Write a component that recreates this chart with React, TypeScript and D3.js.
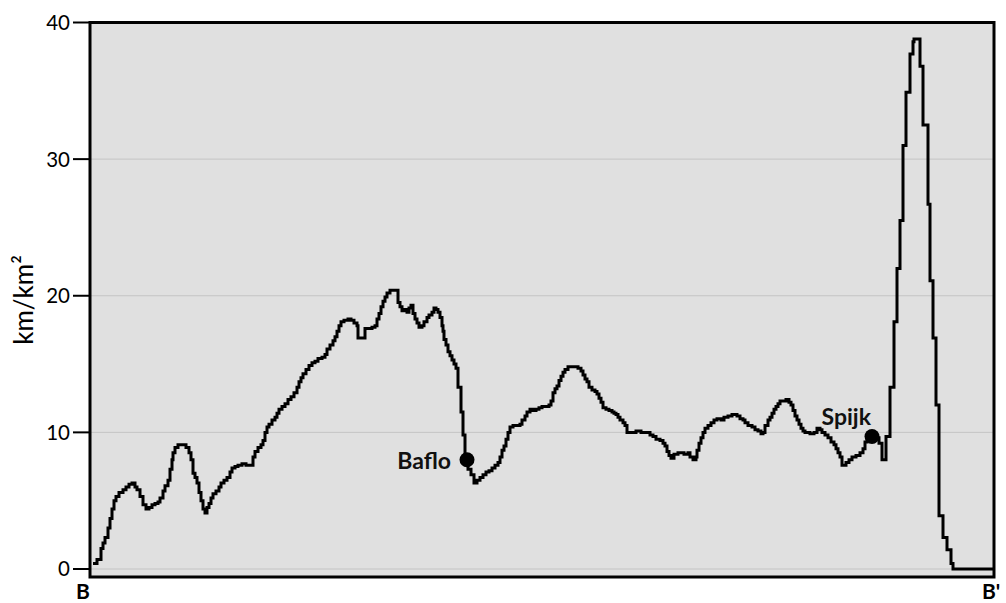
import React from "react";
import * as d3 from "d3";

// distance along profile B–B' (km) and road density (km/km²)
const distance = [
  0.3, 0.7, 1.1, 1.3, 1.5, 1.8, 2.0, 2.2, 2.4, 2.6, 2.9, 3.3, 3.6, 3.9, 4.2, 4.5, 4.7, 5.0, 5.3, 5.6,
  5.9, 6.2, 6.5, 6.8, 7.0, 7.3, 7.5, 7.8, 8.0, 8.2, 8.3, 8.5, 8.8, 9.6, 9.9, 10.1, 10.3, 10.5, 10.7, 10.9,
  11.1, 11.3, 11.5, 11.7, 11.9, 12.1, 12.3, 12.6, 12.9, 13.1, 13.4, 13.7, 14.0, 14.2, 14.5, 14.8, 15.2, 15.6, 16.3, 16.5,
  16.8, 17.1, 17.3, 17.5, 17.7, 17.9, 18.2, 18.5, 18.7, 18.9, 19.2, 19.5, 19.8, 20.1, 20.4, 20.7, 20.9, 21.1, 21.3, 21.6,
  21.9, 22.2, 22.5, 22.8, 23.2, 23.5, 23.7, 24.0, 24.3, 24.5, 24.7, 24.9, 25.1, 25.4, 25.8, 26.1, 26.4, 26.7, 26.8, 27.5,
  28.2, 28.5, 28.7, 28.9, 29.1, 29.3, 29.5, 29.7, 30.0, 30.8, 31.0, 31.2, 31.5, 31.7, 31.9, 32.1, 32.3, 32.5, 32.7, 32.9,
  33.2, 33.4, 33.7, 33.9, 34.2, 34.4, 34.6, 34.8, 35.0, 35.2, 35.3, 35.4, 35.6, 35.8, 36.0, 36.2, 36.4, 36.6, 36.8, 37.1,
  37.3, 37.5, 37.8, 38.1, 38.4, 38.7, 39.0, 39.3, 39.6, 39.9, 40.2, 40.5, 40.8, 41.0, 41.2, 41.4, 41.6, 41.8, 42.0, 42.3,
  43.0, 43.2, 43.5, 43.7, 44.0, 44.3, 44.6, 44.9, 45.2, 45.9, 46.1, 46.3, 46.5, 46.7, 46.9, 47.1, 47.3, 47.5, 47.8, 48.8,
  49.1, 49.3, 49.5, 49.7, 49.9, 50.2, 50.5, 50.7, 50.9, 51.1, 51.3, 51.6, 51.9, 52.2, 52.4, 52.6, 52.8, 53.0, 53.3, 53.5,
  53.7, 54.6, 55.1, 56.0, 56.3, 56.6, 57.0, 57.3, 57.5, 57.7, 57.9, 58.1, 58.4, 58.8, 59.4, 59.8, 60.0, 60.3, 60.6, 60.7,
  60.9, 61.1, 61.3, 61.5, 61.8, 62.1, 62.4, 62.7, 63.1, 63.4, 63.8, 64.2, 64.7, 65.0, 65.3, 65.5, 65.8, 66.2, 66.5, 66.8,
  67.1, 67.3, 67.5, 67.8, 68.0, 68.2, 68.4, 68.6, 68.8, 69.0, 69.6, 69.9, 70.1, 70.3, 70.5, 70.7, 70.9, 71.1, 71.3, 71.5,
  72.0, 72.4, 72.7, 73.0, 73.2, 73.5, 73.8, 74.1, 74.4, 74.6, 74.8, 75.0, 75.2, 75.6, 75.9, 76.2, 76.6, 77.0, 77.3, 77.5,
  77.7, 78.0, 78.6, 78.9, 79.2, 79.6, 80.0, 80.4, 80.7, 81.0, 81.3, 81.6, 82.0, 82.3, 82.4, 83.0, 83.3, 83.8, 84.0, 84.3,
  84.6, 84.9, 85.3, 85.7, 86.1, 86.3, 90.4,
];

const density = [
  0.4, 0.7, 1.5, 1.9, 2.3, 3.0, 3.7, 4.4, 5.0, 5.3, 5.6, 5.8, 6.0, 6.2, 6.3, 6.0, 5.8, 5.3, 4.7, 4.4,
  4.5, 4.7, 4.8, 4.9, 5.2, 5.7, 6.1, 6.5, 7.3, 8.0, 8.5, 8.9, 9.1, 8.9, 8.5, 8.0, 7.0, 6.7, 6.3, 5.6,
  5.0, 4.4, 4.1, 4.5, 4.8, 5.2, 5.5, 5.7, 6.0, 6.3, 6.5, 6.7, 7.1, 7.4, 7.5, 7.6, 7.7, 7.6, 8.2, 8.6,
  8.9, 9.1, 9.4, 10.0, 10.4, 10.6, 10.9, 11.1, 11.4, 11.7, 11.9, 12.1, 12.4, 12.6, 12.9, 13.3, 13.7, 14.0, 14.3, 14.6,
  14.9, 15.1, 15.2, 15.4, 15.5, 15.7, 16.1, 16.4, 16.7, 17.0, 17.4, 17.8, 18.1, 18.2, 18.3, 18.2, 18.0, 17.8, 16.9, 17.6,
  17.7, 17.8, 18.3, 18.7, 19.2, 19.6, 19.9, 20.2, 20.4, 19.5, 19.2, 18.9, 19.0, 18.8, 19.1, 19.3, 18.7, 18.3, 18.0, 17.7,
  17.8, 18.1, 18.4, 18.6, 18.8, 19.1, 19.0, 18.8, 18.4, 17.8, 17.4, 16.8, 16.4, 15.9, 15.6, 15.3, 15.0, 14.7, 13.3, 11.5,
  9.8, 8.1, 7.3, 6.9, 6.3, 6.5, 6.7, 6.9, 7.1, 7.2, 7.4, 7.6, 7.8, 8.2, 8.7, 9.0, 9.5, 10.0, 10.4, 10.5,
  10.6, 10.9, 11.2, 11.5, 11.7, 11.6, 11.7, 11.8, 11.9, 12.0, 12.3, 12.9, 13.2, 13.4, 13.8, 14.1, 14.4, 14.6, 14.8, 14.7,
  14.5, 14.2, 13.9, 13.7, 13.3, 13.1, 13.0, 12.8, 12.5, 12.2, 11.8, 11.7, 11.6, 11.5, 11.4, 11.3, 11.1, 10.9, 10.7, 10.5,
  10.0, 10.1, 10.0, 9.8, 9.7, 9.5, 9.4, 9.2, 9.0, 8.6, 8.3, 8.1, 8.4, 8.5, 8.4, 8.5, 8.2, 8.0, 8.2, 8.7,
  9.2, 9.6, 10.0, 10.3, 10.5, 10.7, 10.9, 11.0, 10.9, 11.1, 11.2, 11.3, 11.2, 11.0, 10.9, 10.7, 10.5, 10.4, 10.2, 10.1,
  9.9, 10.0, 10.5, 10.9, 11.1, 11.4, 11.7, 11.9, 12.1, 12.3, 12.4, 12.2, 12.0, 11.6, 11.2, 10.9, 10.6, 10.3, 10.1, 10.0,
  9.9, 10.0, 10.3, 10.2, 10.0, 9.8, 9.6, 9.3, 9.1, 8.8, 8.5, 8.2, 7.6, 7.8, 8.0, 8.2, 8.3, 8.5, 8.8, 9.3,
  9.6, 9.9, 9.6, 9.2, 8.0, 9.7, 13.3, 18.1, 22.0, 25.5, 31.0, 34.9, 37.7, 38.6, 38.8, 36.8, 32.5, 26.7, 21.1, 16.9,
  12.0, 3.9, 2.3, 1.4, 0.4, 0.0, 0.0,
];

const places = ["Baflo", "Spijk"];
const placeDistance = [37.7, 78.2];
const placeDensity = [8.0, 9.7];

const yTicks = [0, 10, 20, 30, 40];
const endLabels = ["B", "B'"];
const yLabel = "km/km²";

const FONT = "Lato, 'Open Sans', sans-serif";

export default function App() {
  const left = 90, right = 994, top = 22.5, bottom = 577;
  const x = d3.scaleLinear().domain([0, 90.4]).range([left, right]);
  const y = d3.scaleLinear().domain([0, 40]).range([569, top]);

  const pts = distance.map((d, i) => [d, density[i]] as [number, number]);
  const line = d3
    .line<[number, number]>()
    .x((p) => x(p[0]))
    .y((p) => y(p[1]))
    .curve(d3.curveStepAfter);

  return (
    <svg width={1006} height={603} style={{ position: "absolute", left: 0, top: 0 }}>
      <rect x={left} y={top} width={right - left} height={bottom - top} fill="#e0e0e0" />
      {yTicks.filter((t) => t < 40).map((t) => (
        <line key={"g" + t} x1={left} x2={right} y1={y(t)} y2={y(t)} stroke="#c4c4c4" strokeWidth={1} />
      ))}
      <path d={line(pts) || ""} fill="none" stroke="#000" strokeWidth={3} strokeLinejoin="miter" />
      {places.map((p, i) => {
        const cx = x(placeDistance[i]);
        const cy = y(placeDensity[i]);
        return (
          <g key={p}>
            <circle cx={cx} cy={cy} r={7.5} fill="#000" />
            {i === 0 ? (
              <text x={cx - 16} y={cy + 9} textAnchor="end" fontFamily={FONT} fontWeight={700} fontSize={23} fill="#111">
                {p}
              </text>
            ) : (
              <text x={cx - 1} y={cy - 11} textAnchor="end" fontFamily={FONT} fontWeight={700} fontSize={23} fill="#111">
                {p}
              </text>
            )}
          </g>
        );
      })}
      <rect x={left} y={top} width={right - left} height={bottom - top} fill="none" stroke="#000" strokeWidth={3} />
      {yTicks.map((t) => (
        <g key={"t" + t}>
          <line x1={73} x2={left} y1={y(t)} y2={y(t)} stroke="#000" strokeWidth={2} />
          <text x={70} y={y(t)} dy="0.36em" textAnchor="end" fontFamily={FONT} fontSize={20.5} fill="#000">
            {t}
          </text>
        </g>
      ))}
      <text x={83} y={599} textAnchor="middle" fontFamily={FONT} fontWeight={700} fontSize={21} fill="#000">
        {endLabels[0]}
      </text>
      <text x={982} y={599} textAnchor="start" fontFamily={FONT} fontWeight={700} fontSize={21} fill="#000">
        {endLabels[1]}
      </text>
      <text
        transform={`translate(33,${300}) rotate(-90)`}
        textAnchor="middle"
        fontFamily={FONT}
        fontSize={26}
        fill="#000"
      >
        {yLabel}
      </text>
    </svg>
  );
}
